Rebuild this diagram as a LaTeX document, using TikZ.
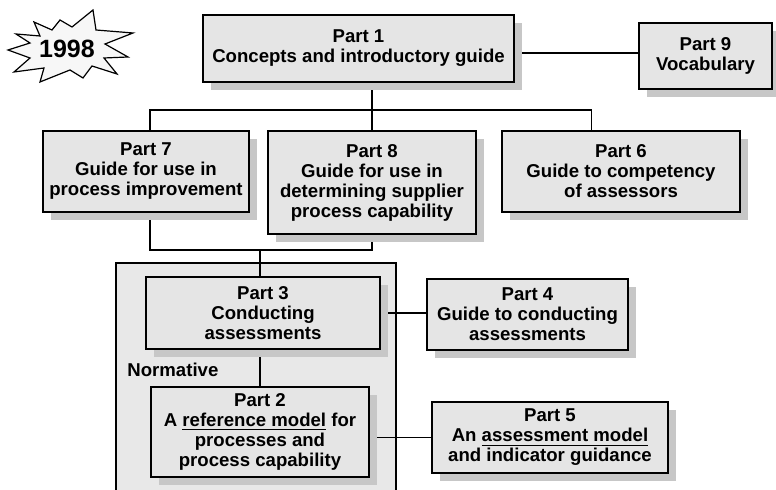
\documentclass[tikz,border=0pt]{standalone}
\usepackage{fontspec}
\setmainfont{Liberation Sans}
\usetikzlibrary{calc,shadows,backgrounds}

\begin{document}
\begin{tikzpicture}[
  x=0.5pt,y=-0.5pt,
  every node/.style={font=\fontsize{9.3}{10}\selectfont\bfseries},
  part/.style={rectangle,draw=black,line width=0.85pt,fill=black!10,
               inner sep=0pt,align=center,
               drop shadow={shadow xshift=4pt,shadow yshift=-3.8pt,
                            fill=black!22,opacity=1}},
  link/.style={line width=0.6pt},
  normbox/.style={draw=black,line width=0.85pt,fill=black!9}
]
\useasboundingbox (0,0) rectangle (776,490);
\clip (0,0) rectangle (776,490);

% starburst
\draw[fill=black!3,line width=0.6pt]
  (60,20) -- (72,27) -- (93,10) -- (96,30) -- (133,33) -- (105,44)
  -- (128,57) -- (104,58) -- (117,74) -- (92,66) -- (83,78) -- (70,70)
  -- (40,82) -- (44,68) -- (14,72) -- (30,58) -- (8,50) -- (30,43)
  -- (16,34) -- (40,36) -- (34,22) -- (52,30) -- cycle;
\node[inner sep=0pt,font=\fontsize{12.5}{14}\selectfont\bfseries] (year)
  at (67,49) {1998};

% informative parts
\node[part,minimum width=155.5pt,minimum height=33.5pt] (p1) at (358.5,48.5)
  {Part 1\\Concepts and introductory guide};
\node[part,minimum width=66.5pt,minimum height=33pt] (p9) at (705.5,56)
  {Part 9\\Vocabulary};
\node[part,minimum width=103pt,minimum height=40.5pt] (p7) at (146,171.5)
  {Part 7\\Guide for use in\\process improvement};
\node[part,minimum width=104pt,minimum height=51.5pt] (p8) at (372,182.5)
  {Part 8\\Guide for use in\\determining supplier\\process capability};
\node[part,minimum width=119pt,minimum height=40.5pt] (p6) at (621,171.5)
  {Part 6\\Guide to competency\\of assessors};

% normative parts
\node[part,minimum width=117pt,minimum height=36pt] (p3) at (263,313)
  {Part 3\\Conducting\\assessments};
\node[part,minimum width=100.5pt,minimum height=35.5pt] (p4) at (527.5,314.5)
  {Part 4\\Guide to conducting\\assessments};
\node[part,minimum width=109pt,minimum height=45pt] (p2) at (260,432)
  {Part 2\\A \underline{reference model} for\\processes and\\process capability};
\node[part,minimum width=118pt,minimum height=35.5pt] (p5) at (550,437.5)
  {Part 5\\An \underline{assessment model}\\and indicator guidance};
\node[anchor=west,inner sep=0pt] (normlbl) at (127,370) {Normative};

\coordinate (bus)  at (0,110);
\coordinate (bus2) at (0,250);
\coordinate (j1) at ($(p1.east)+(0,4.5)$);
\coordinate (j6) at ($(p6.north west)+(90,0)$);
\coordinate (j7) at ($(p7.north)+(4,0)$);
\coordinate (j7b) at ($(p7.south)+(4,0)$);
\coordinate (j3) at ($(p3.north)+(-3,0)$);

\begin{scope}[on background layer]
  \draw[normbox] (116,263) rectangle (396,500);
  \draw[link] (j1) -- (j1 -| p9.west);
  \draw[link] (p8.north) -- (p8.north |- p1.south);
  \draw[link] (j7) |- (bus -| j6) -- (j6);
  \draw[link] (j7b) |- (bus2 -| p8.south) -- (p8.south);
  \draw[link] (j3) -- (j3 |- bus2);
  \draw[link] (p3.east) -- (p3.east -| p4.west);
  \draw[link] (p3.south -| p2.north) -- (p2.north);
  \draw[link] (p2.east |- p5.west) -- (p5.west);
\end{scope}
\end{tikzpicture}
\end{document}
